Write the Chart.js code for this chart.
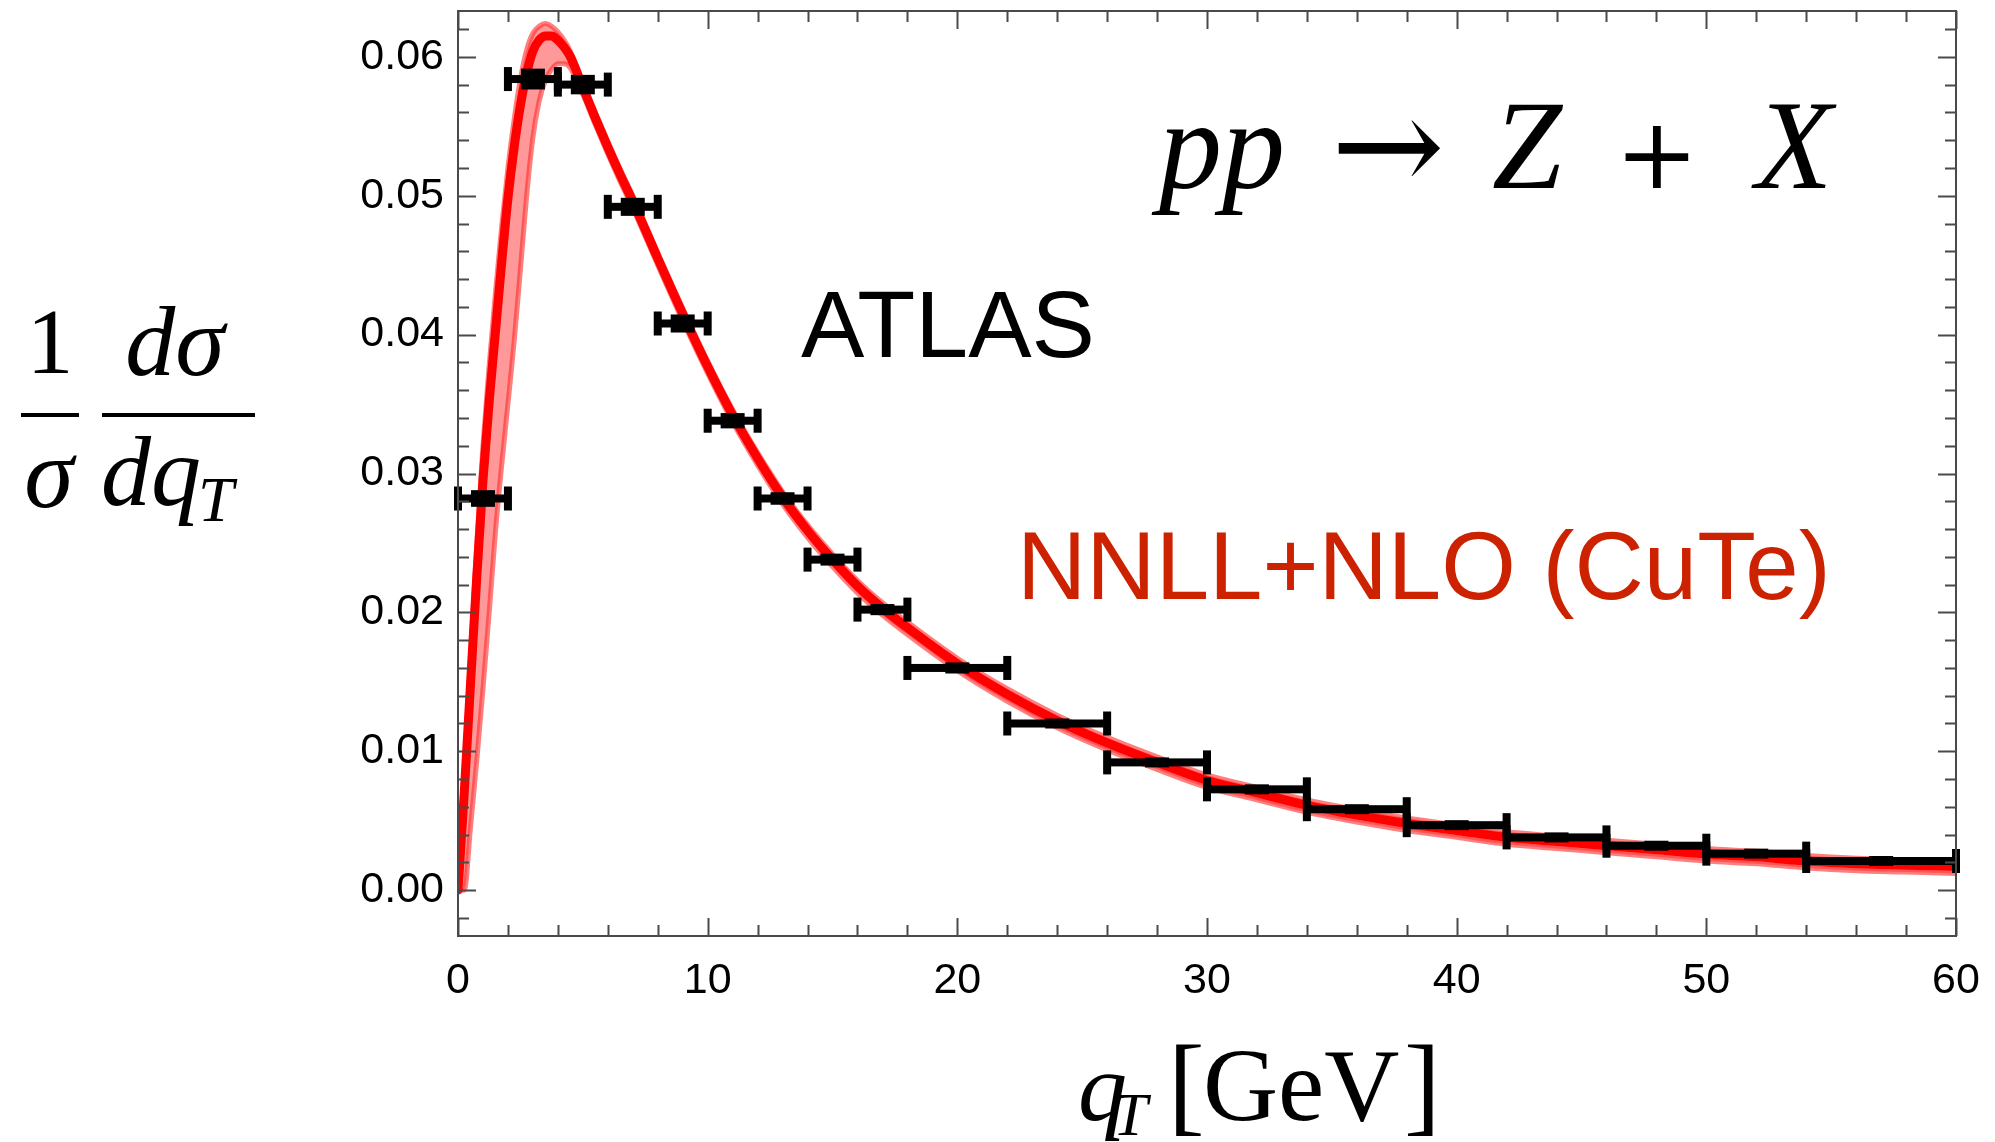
<!DOCTYPE html>
<html>
<head>
<meta charset="utf-8">
<script src="https://cdn.jsdelivr.net/npm/chart.js@4.4.1/dist/chart.umd.min.js"></script>
<style>
  html, body { margin: 0; padding: 0; background: #fff; }
  #wrap { width: 1995px; height: 1142px; }
</style>
</head>
<body>
<div id="wrap"><canvas id="qtChart" width="1995" height="1142"></canvas></div>
<script>
// NNLL+NLO (CuTe) prediction: central line and the edges of the scale band
var qT = [0, 0.25, 0.5, 0.75, 1, 1.25, 1.5, 1.75, 2, 2.25, 2.5, 2.75, 3, 3.25, 3.5, 3.75, 4, 4.25, 4.5,
          5, 5.5, 6, 6.5, 7, 8, 9, 10, 11, 12, 13, 14, 15, 16, 17, 18, 20, 22, 24, 26, 28, 30,
          32, 34, 36, 38, 40, 42, 44, 46, 48, 50, 52, 54, 56, 58, 60];
var central = [0, 0.0070, 0.0148, 0.0225, 0.0295, 0.0352, 0.0402, 0.0452, 0.0498, 0.0535, 0.0565, 0.0588, 0.0604, 0.0612, 0.0615, 0.0615, 0.0612, 0.0607, 0.0600,
               0.0578, 0.0556, 0.0535, 0.0515, 0.0496, 0.0455, 0.0415, 0.0377, 0.0342, 0.0311, 0.0283, 0.0259, 0.0238, 0.0219, 0.0203, 0.0189, 0.0163, 0.0141, 0.0122, 0.0106, 0.0092, 0.0079,
               0.0070, 0.0061, 0.0054, 0.0048, 0.0043, 0.0038, 0.0035, 0.0032, 0.0029, 0.0026, 0.0024, 0.0021, 0.0019, 0.0018, 0.0017];
var bandHigh = [0, 0.0085, 0.0168, 0.0248, 0.0320, 0.0378, 0.0430, 0.0478, 0.0520, 0.0555, 0.0584, 0.0605, 0.0617, 0.0622, 0.0624, 0.0622, 0.0618, 0.0612, 0.0604,
                0.0582, 0.0560, 0.0539, 0.0519, 0.0500, 0.0459, 0.0419, 0.0381, 0.0346, 0.0315, 0.0287, 0.0263, 0.0242, 0.0223, 0.0207, 0.0193, 0.0167, 0.0145, 0.0126, 0.0110, 0.0096, 0.0083,
                0.0074, 0.0065, 0.0058, 0.0052, 0.0047, 0.0042, 0.0039, 0.0036, 0.0033, 0.0030, 0.0028, 0.0025, 0.0023, 0.0022, 0.0021];
var bandLow = [0, 0.0000, 0.0045, 0.0093, 0.0145, 0.0200, 0.0258, 0.0306, 0.0350, 0.0395, 0.0447, 0.0500, 0.0542, 0.0568, 0.0583, 0.0591, 0.0595, 0.0595, 0.0592,
               0.0573, 0.0551, 0.0530, 0.0510, 0.0491, 0.0450, 0.0410, 0.0372, 0.0337, 0.0306, 0.0278, 0.0254, 0.0233, 0.0214, 0.0198, 0.0184, 0.0158, 0.0136, 0.0117, 0.0101, 0.0087, 0.0074,
               0.0065, 0.0056, 0.0049, 0.0043, 0.0038, 0.0033, 0.0030, 0.0027, 0.0024, 0.0021, 0.0019, 0.0016, 0.0014, 0.0013, 0.0012];

// ATLAS measurement, one entry per qT bin
var binLo = [0, 2, 4, 6, 8, 10, 12, 14, 16, 18, 22, 26, 30, 34, 38, 42, 46, 50, 54];
var binHi = [2, 4, 6, 8, 10, 12, 14, 16, 18, 22, 26, 30, 34, 38, 42, 46, 50, 54, 60];
var atlas = [0.0282, 0.0584, 0.0580, 0.0492, 0.0408, 0.0338, 0.0282, 0.0238, 0.0202, 0.0160, 0.0120, 0.0092,
             0.00726, 0.00583, 0.00468, 0.0038, 0.0032, 0.00263, 0.0021];
var atlasErr = [0.0006, 0.00075, 0.0007, 0.00065, 0.00065, 0.00055, 0.00045, 0.00043, 0.0004, 0.0004, 0.0003, 0.0003,
                0.00025, 0.00025, 0.00025, 0.0002, 0.0002, 0.0002, 0.0002];

var xTicks = [0, 10, 20, 30, 40, 50, 60];
var yTicks = [0, 0.01, 0.02, 0.03, 0.04, 0.05, 0.06];

function pts(ys) {
  return qT.map(function (x, i) { return { x: x, y: ys[i] }; });
}

// box with inward ticks on all four sides
var frameTicks = {
  id: 'frameTicks',
  afterDraw: function (chart) {
    var ctx = chart.ctx, a = chart.chartArea;
    var xs = chart.scales.x, ys = chart.scales.y;
    var i, p, len;
    ctx.save();
    ctx.strokeStyle = '#4a4a4a';
    ctx.lineWidth = 2;
    ctx.strokeRect(a.left, a.top, a.right - a.left, a.bottom - a.top);
    ctx.beginPath();
    for (i = 0; i <= 30; i++) {
      p = Math.round(xs.getPixelForValue(i * 2)) + 0.5;
      len = (i % 5 === 0) ? 18 : 11;
      ctx.moveTo(p, a.bottom); ctx.lineTo(p, a.bottom - len);
      ctx.moveTo(p, a.top); ctx.lineTo(p, a.top + len);
    }
    for (i = -1; i <= 31; i++) {
      p = Math.round(ys.getPixelForValue(i * 0.002)) + 0.5;
      len = (i % 5 === 0) ? 18 : 11;
      ctx.moveTo(a.left, p); ctx.lineTo(a.left + len, p);
      ctx.moveTo(a.right, p); ctx.lineTo(a.right - len, p);
    }
    ctx.stroke();
    ctx.restore();
  }
};

// ATLAS points: bin-width bars with end caps and a block for the y error
var atlasBars = {
  id: 'atlasBars',
  afterDatasetsDraw: function (chart) {
    var ctx = chart.ctx, xs = chart.scales.x, ys = chart.scales.y;
    ctx.save();
    ctx.fillStyle = '#000';
    for (var i = 0; i < atlas.length; i++) {
      var x1 = xs.getPixelForValue(binLo[i]);
      var x2 = xs.getPixelForValue(binHi[i]);
      var xc = xs.getPixelForValue((binLo[i] + binHi[i]) / 2);
      var y = ys.getPixelForValue(atlas[i]);
      var yt = ys.getPixelForValue(atlas[i] + atlasErr[i]);
      var yb = ys.getPixelForValue(atlas[i] - atlasErr[i]);
      ctx.fillRect(x1, y - 4, x2 - x1, 8);
      ctx.fillRect(x1 - 4, y - 12, 8, 24);
      ctx.fillRect(x2 - 4, y - 12, 8, 24);
      var h = Math.max(yb - yt, 10);
      ctx.fillRect(xc - 12, y - h / 2, 24, h);
    }
    ctx.restore();
  }
};

// axis titles and in-plot labels
var labels = {
  id: 'labels',
  afterDraw: function (chart) {
    var ctx = chart.ctx;
    ctx.save();
    ctx.fillStyle = '#000';
    ctx.textBaseline = 'alphabetic';

    // pp -> Z + X
    ctx.textAlign = 'center';
    ctx.font = 'italic 126px "Liberation Serif"';
    ctx.fillText('pp', 1222, 188);
    ctx.fillText('Z', 1527, 188);
    ctx.fillText('X', 1794, 188);
    ctx.font = '136px "DejaVu Serif"';
    ctx.fillText('\u2192', 1388, 192);
    ctx.font = '100px "DejaVu Serif"';
    ctx.fillText('+', 1657, 188);

    ctx.textAlign = 'left';
    ctx.font = '95px "Liberation Sans"';
    ctx.fillText('ATLAS', 801, 357);
    ctx.fillStyle = '#cc2200';
    ctx.font = '96px "Liberation Sans"';
    ctx.fillText('NNLL+NLO (CuTe)', 1017, 599);

    // y title: 1/sigma dsigma/dqT
    ctx.fillStyle = '#000';
    ctx.textAlign = 'center';
    ctx.font = '94px "Liberation Serif"';
    ctx.fillText('1', 50, 373);
    ctx.fillRect(21, 413, 58, 4);
    ctx.font = 'italic 100px "Liberation Serif"';
    ctx.fillText('\u03c3', 49, 507);
    ctx.fillText('d\u03c3', 175, 375);
    ctx.fillRect(102, 413, 153, 4);
    ctx.textAlign = 'left';
    ctx.fillText('dq', 101, 505);
    ctx.font = 'italic 64px "Liberation Serif"';
    ctx.fillText('T', 198, 521);

    // x title: qT [GeV]
    ctx.font = 'italic 98px "Liberation Serif"';
    ctx.fillText('q', 1078, 1120);
    ctx.font = 'italic 62px "Liberation Serif"';
    ctx.fillText('T', 1113, 1135);
    ctx.font = '110px "Liberation Serif"';
    ctx.fillText('[', 1168, 1121);
    ctx.fillText(']', 1404, 1121);
    ctx.font = '104px "Liberation Serif"';
    ctx.fillText('GeV', 1203, 1120);
    ctx.restore();
  }
};

var ctx = document.getElementById('qtChart').getContext('2d');
var chart = new Chart(ctx, {
  type: 'line',
  data: {
    datasets: [{
      label: 'NNLL+NLO',
      data: pts(central),
      borderColor: '#ff0000',
      borderWidth: 9,
      fill: false
    }, {
      label: 'band high',
      data: pts(bandHigh),
      borderColor: 'rgba(255, 40, 40, 0.6)',
      borderWidth: 5,
      fill: false
    }, {
      label: 'band low',
      data: pts(bandLow),
      borderColor: 'rgba(255, 40, 40, 0.6)',
      borderWidth: 5,
      backgroundColor: 'rgba(255, 0, 0, 0.4)',
      fill: '-1'
    }]
  },
  options: {
    responsive: false,
    animation: false,
    devicePixelRatio: 1,
    layout: { padding: { left: 278, right: 39, top: 11, bottom: 0 } },
    elements: {
      point: { radius: 0, hoverRadius: 0 },
      line: { cubicInterpolationMode: 'monotone', borderCapStyle: 'round', borderJoinStyle: 'round' }
    },
    plugins: { legend: { display: false }, tooltip: { enabled: false } },
    scales: {
      x: {
        type: 'linear',
        min: 0,
        max: 60,
        grid: { display: false, drawTicks: false },
        border: { display: false },
        afterBuildTicks: function (s) { s.ticks = xTicks.map(function (v) { return { value: v }; }); },
        afterFit: function (s) { s.height = 206; s.paddingLeft = 0; s.paddingRight = 0; },
        ticks: {
          color: '#000',
          font: { family: 'Liberation Sans', size: 43 },
          padding: 19,
          maxRotation: 0,
          autoSkip: false,
          callback: function (v) { return String(v); }
        }
      },
      y: {
        type: 'linear',
        min: -0.0033,
        max: 0.0633,
        grid: { display: false, drawTicks: false },
        border: { display: false },
        afterBuildTicks: function (s) { s.ticks = yTicks.map(function (v) { return { value: v }; }); },
        afterFit: function (s) { s.width = 180; s.paddingTop = 0; s.paddingBottom = 0; },
        ticks: {
          color: '#000',
          font: { family: 'Liberation Sans', size: 43 },
          padding: 14,
          autoSkip: false,
          callback: function (v) { return v.toFixed(2); }
        }
      }
    }
  },
  plugins: [atlasBars, frameTicks, labels]
});
</script>
</body>
</html>
